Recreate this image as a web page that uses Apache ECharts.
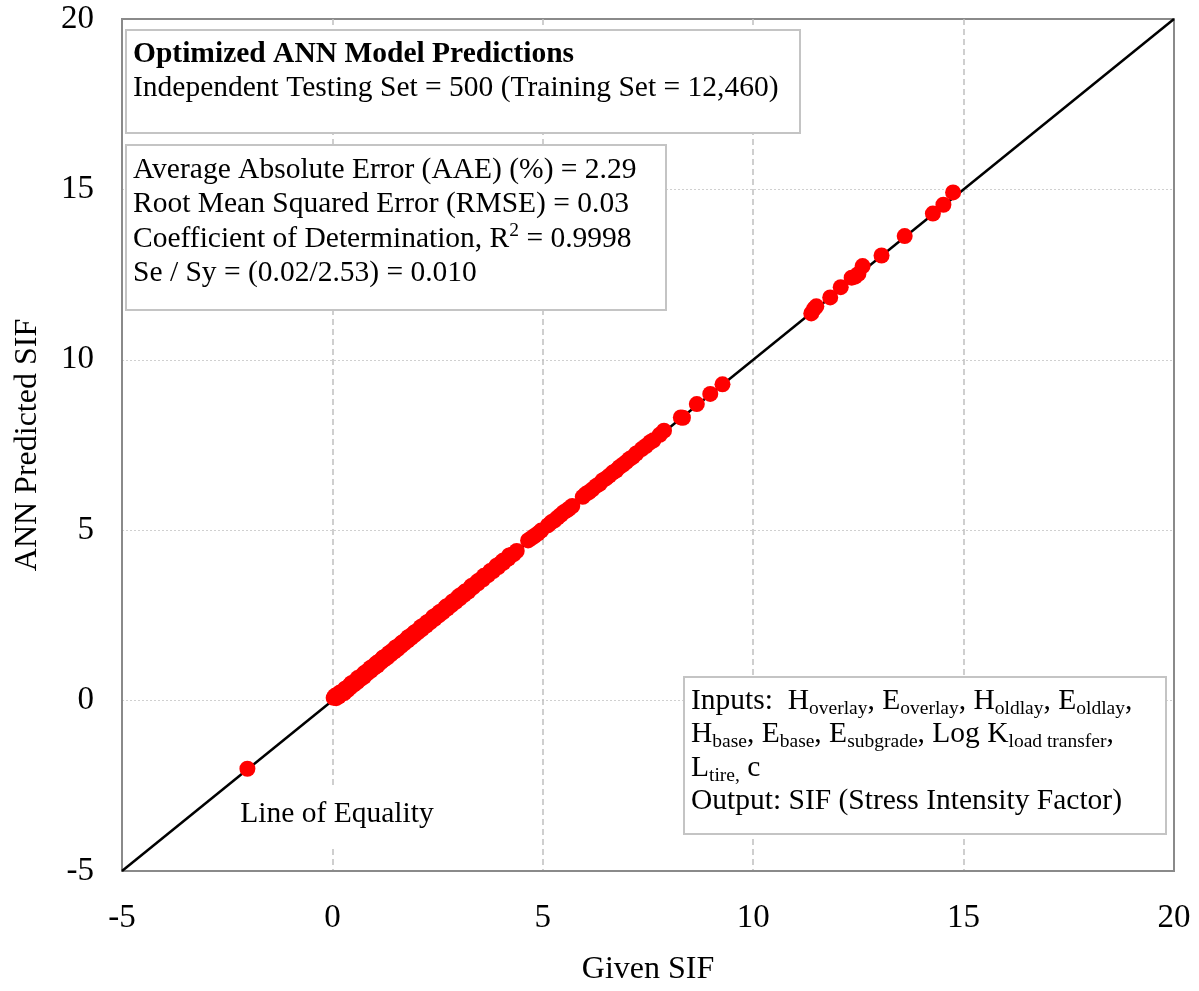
<!DOCTYPE html>
<html>
<head>
<meta charset="utf-8">
<script src="https://cdn.jsdelivr.net/npm/echarts@6/dist/echarts.min.js"></script>
<style>
  html, body { margin: 0; padding: 0; background: #fff; }
  #chart { width: 1199px; height: 991px; }
</style>
</head>
<body>
<div id="chart"></div>
<script>
// ---- Data ----
const axisTicks = [-5, 0, 5, 10, 15, 20];
const equalityLine = [-5, 20];

const givenSIF = [
  -2.02,
  0.03, 0.06, 0.09, 0.12, 0.15, 0.18, 0.21, 0.25, 0.28, 0.32, 0.36, 0.40, 0.43, 0.47, 0.51,
  0.55, 0.59, 0.63, 0.67, 0.71, 0.75, 0.79, 0.83, 0.87, 0.91, 0.95, 0.99, 1.03, 1.07, 1.11,
  1.15, 1.19, 1.23, 1.27, 1.31, 1.35, 1.39, 1.43, 1.47, 1.51, 1.55, 1.59, 1.63, 1.67, 1.71,
  1.75, 1.79, 1.83, 1.87, 1.91, 1.95, 1.99, 2.03, 2.08, 2.13, 2.18, 2.23, 2.28, 2.33, 2.38,
  2.43, 2.48, 2.53, 2.58, 2.63, 2.68, 2.73, 2.78, 2.83, 2.88, 2.93, 2.98, 3.03, 3.08, 3.13,
  3.18, 3.23, 3.28, 3.34, 3.40, 3.46, 3.52, 3.58, 3.64, 3.70, 3.76, 3.82, 3.88, 3.94, 4.00,
  4.06, 4.12, 4.18, 4.25, 4.31, 4.38,
  0.30, 0.45, 0.60, 0.75, 0.90, 1.05, 1.20, 1.35, 1.50, 1.65, 1.80, 1.95, 2.10, 2.25,
  2.40, 2.55, 2.70, 2.85, 3.00, 3.15, 3.30, 3.45, 3.60, 3.75, 3.90, 4.05, 4.20,
  4.65, 4.72, 4.80, 4.88, 4.96,
  5.12, 5.20, 5.28, 5.35, 5.43, 5.50, 5.57, 5.62, 5.70,
  5.95, 6.02, 6.10, 6.18, 6.27, 6.35, 6.42, 6.50, 6.58, 6.66, 6.74, 6.82, 6.90, 6.98, 7.06,
  7.14, 7.22, 7.35, 7.45, 7.55, 7.63, 7.78, 7.88,
  8.28, 8.33, 8.66, 8.98, 9.27,
  11.38, 11.45, 11.50, 11.83, 12.08, 12.34, 12.42, 12.50, 12.60, 13.05, 13.60, 14.27, 14.52, 14.75
];
const predictedSIF = [
  -2.00,
  0.08, 0.14, 0.07, 0.18, 0.12, 0.24, 0.19, 0.27, 0.22, 0.35, 0.31, 0.44, 0.39, 0.50, 0.47,
  0.58, 0.54, 0.66, 0.63, 0.74, 0.70, 0.83, 0.80, 0.90, 0.87, 0.99, 0.96, 1.07, 1.03, 1.15,
  1.12, 1.23, 1.20, 1.31, 1.27, 1.39, 1.36, 1.47, 1.44, 1.55, 1.51, 1.63, 1.60, 1.71, 1.68,
  1.79, 1.76, 1.87, 1.84, 1.95, 1.92, 2.03, 2.00, 2.12, 2.10, 2.22, 2.20, 2.31, 2.30, 2.42,
  2.40, 2.52, 2.50, 2.61, 2.60, 2.72, 2.70, 2.81, 2.80, 2.92, 2.90, 3.01, 3.00, 3.12, 3.10,
  3.21, 3.20, 3.31, 3.32, 3.43, 3.44, 3.55, 3.56, 3.66, 3.68, 3.79, 3.80, 3.90, 3.92, 4.03,
  4.04, 4.14, 4.17, 4.27, 4.30, 4.39,
  0.35, 0.51, 0.66, 0.80, 0.96, 1.10, 1.26, 1.40, 1.56, 1.70, 1.86, 2.00, 2.16, 2.30,
  2.46, 2.60, 2.76, 2.90, 3.06, 3.20, 3.36, 3.50, 3.66, 3.80, 3.96, 4.10, 4.26,
  4.70, 4.76, 4.83, 4.90, 4.99,
  5.14, 5.23, 5.29, 5.37, 5.45, 5.53, 5.58, 5.63, 5.71,
  5.98, 6.06, 6.12, 6.20, 6.30, 6.36, 6.46, 6.52, 6.60, 6.69, 6.75, 6.85, 6.92, 7.00, 7.09,
  7.15, 7.25, 7.38, 7.47, 7.58, 7.64, 7.80, 7.92,
  8.31, 8.30, 8.70, 9.00, 9.28,
  11.36, 11.50, 11.57, 11.83, 12.13, 12.41, 12.44, 12.52, 12.75, 13.06, 13.63, 14.29, 14.55, 14.91
];

const xAxisTitle = 'Given SIF';
const yAxisTitle = 'ANN Predicted SIF';
const box1Lines = ['{b|Optimized ANN Model Predictions}', 'Independent Testing Set = 500 (Training Set = 12,460)'];
const box2Lines = [
  'Average Absolute Error (AAE) (%) = 2.29',
  'Root Mean Squared Error (RMSE) = 0.03',
  'Coefficient of Determination, R{sup|2} = 0.9998',
  'Se / Sy = (0.02/2.53) = 0.010'
];
const box3Lines = [
  'Inputs:  H{sub|overlay}, E{sub|overlay}, H{sub|oldlay}, E{sub|oldlay},',
  'H{sub|base}, E{sub|base}, E{sub|subgrade}, Log K{sub|load transfer},',
  'L{sub|tire,} c',
  'Output: SIF (Stress Intensity Factor)'
];
const equalityLabel = 'Line of Equality';

// ---- Chart ----
const FONT = 'Liberation Serif';
const BOXFS = 29.5;
const points = givenSIF.map((g, i) => [g, predictedSIF[i]]);
const richStyles = {
  b: { fontFamily: FONT, fontSize: BOXFS, fontWeight: 'bold', fill: '#000' },
  sub: { fontFamily: FONT, fontSize: 19.5, padding: [16, 0, 0, 0], fill: '#000' },
  sup: { fontFamily: FONT, fontSize: 19.5, padding: [0, 0, 16, 0], fill: '#000' }
};

function textBox(x0, y0, w, h, tx, ty, lines, lh) {
  return [
    { type: 'rect', z: 10, shape: { x: x0, y: y0, width: w, height: h },
      style: { fill: '#fff', stroke: '#c4c4c4', lineWidth: 2 } },
    { type: 'text', z: 11, x: tx, y: ty,
      style: { text: lines.join('\n'), fontFamily: FONT, fontSize: BOXFS, fill: '#000',
               lineHeight: lh, rich: richStyles, textVerticalAlign: 'top' } }
  ];
}

const chart = echarts.init(document.getElementById('chart'), null, { renderer: 'canvas' });
chart.setOption({
  backgroundColor: '#fff',
  animation: false,
  grid: { left: 122, right: 25, top: 19, bottom: 120, show: true,
          borderColor: '#8a8a8a', borderWidth: 2, backgroundColor: 'transparent' },
  xAxis: {
    type: 'value', min: axisTicks[0], max: axisTicks[axisTicks.length - 1], interval: 5,
    name: xAxisTitle, nameLocation: 'middle', nameGap: 83,
    nameTextStyle: { fontFamily: FONT, fontSize: 32, color: '#000' },
    axisLine: { show: true, onZero: false, lineStyle: { color: '#8a8a8a', width: 2 } },
    axisTick: { show: false },
    axisLabel: { fontFamily: FONT, fontSize: 33, color: '#000', margin: 31 },
    splitLine: { show: true, showMinLine: false, showMaxLine: false,
                 lineStyle: { color: '#c0c0c0', width: 1.5, type: [6, 4] } }
  },
  yAxis: {
    type: 'value', min: axisTicks[0], max: axisTicks[axisTicks.length - 1], interval: 5,
    name: yAxisTitle, nameLocation: 'middle', nameGap: 78,
    nameTextStyle: { fontFamily: FONT, fontSize: 32, color: '#000' },
    axisLine: { show: true, onZero: false, lineStyle: { color: '#8a8a8a', width: 2 } },
    axisTick: { show: false },
    axisLabel: { fontFamily: FONT, fontSize: 33, color: '#000', margin: 28 },
    splitLine: { show: true, showMinLine: false, showMaxLine: false,
                 lineStyle: { color: '#d0d0d0', width: 1, type: [2, 2] } }
  },
  series: [
    { type: 'line', data: equalityLine.map(v => [v, v]), symbol: 'none', z: 2,
      lineStyle: { color: '#000', width: 2.5 }, silent: true },
    { type: 'scatter', data: points, symbol: 'circle', symbolSize: 16, z: 3,
      itemStyle: { color: '#ff0000', opacity: 1 } }
  ],
  graphic: [
    ...textBox(126, 30, 674, 103, 133, 37, box1Lines, 34),
    ...textBox(126, 145, 540, 165, 133, 153, box2Lines, 34.3),
    ...textBox(684, 677, 482, 157, 691, 684, box3Lines, 33.5),
    { type: 'rect', z: 10, shape: { x: 236, y: 789, width: 202, height: 57 },
      style: { fill: '#fff' } },
    { type: 'text', z: 11, x: 337, y: 814,
      style: { text: equalityLabel, fontFamily: FONT, fontSize: BOXFS, fill: '#000',
               textAlign: 'center', textVerticalAlign: 'middle' } }
  ]
});
</script>
</body>
</html>
